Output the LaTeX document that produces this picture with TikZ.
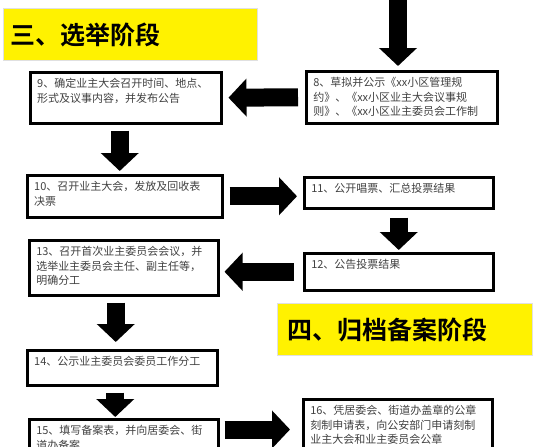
\documentclass[tikz,border=0pt]{standalone}
\usepackage{fontspec}
\newfontfamily\cjk{Noto Sans CJK SC}[BoldFont={Noto Sans CJK SC Bold}]
\usetikzlibrary{arrows.meta}
\usetikzlibrary{calc}
\tikzset{>=latex}
\tikzstyle{stepbox} = [%
					draw, line width = 2.5pt,
					anchor = north west, inner xsep = 7pt, inner ysep = 6pt,
					font = \cjk\fontsize{11}{14.5}\selectfont, text = black!75
					]
\tikzstyle{stage} = [%
					fill = yellow, draw = black!12, line width = 1pt,
					anchor = north west, align = left,
					font = \cjk\bfseries\fontsize{25}{30}\selectfont
					]
\tikzstyle{flow} = [line width = 18pt, -{Triangle[length=18pt,width=37pt]}]
% text of a step box: width, height, lines
\newcommand{\steptext}[3]{\parbox[c][\dimexpr#2pt-12pt\relax][t]{\dimexpr#1pt-14pt\relax}{\raggedright #3}}

\begin{document}
\begin{tikzpicture}[x=1pt,y=-1pt]
    \useasboundingbox (0,0) rectangle (539,447);
    \clip (0,0) rectangle (539,447);

    % stage titles
    \node[stage, inner xsep=7pt, text width=240pt, minimum height=52pt] (stage3) at (3,8) {三、选举阶段};
    \node[stage, inner xsep=10pt, text width=235pt, minimum height=52pt] (stage4) at (277,303) {四、归档备案阶段};

    % the steps
    \node[stepbox] (s8)  at (305,70)  {\steptext{191}{52}{8、草拟并公示《xx小区管理规\\约》、《xx小区业主大会议事规\\则》、《xx小区业主委员会工作制}};
    \node[stepbox] (s9)  at (29,71)   {\steptext{191}{51}{9、确定业主大会召开时间、地点、\\形式及议事内容，并发布公告}};
    \node[stepbox] (s10) at (26,174)  {\steptext{195}{42}{10、召开业主大会，发放及回收表\\决票}};
    \node[stepbox] (s11) at (303,176) {\steptext{189}{31}{11、公开唱票、汇总投票结果}};
    \node[stepbox] (s12) at (303,252) {\steptext{189}{37}{12、公告投票结果}};
    \node[stepbox] (s13) at (28,239)  {\steptext{189}{55}{13、召开首次业主委员会会议，并\\选举业主委员会主任、副主任等，\\明确分工}};
    \node[stepbox] (s14) at (26,349)  {\steptext{190}{35}{14、公示业主委员会委员工作分工}};
    \node[stepbox] (s15) at (28,418)  {\steptext{189}{52}{15、填写备案表，并向居委会、街\\道办备案}};
    \node[stepbox] (s16) at (302,398) {\steptext{189}{62}{16、凭居委会、街道办盖章的公章\\刻制申请表，向公安部门申请刻制\\业主大会和业主委员会公章}};

    % block arrows between the steps
    \coordinate (from7) at (398,-5);
    \draw[flow, shorten >=4pt] (from7) -- (from7 |- s8.north);
    \draw[flow, shorten <=7pt, shorten >=6pt] (s8.west) -- (s9.east);
    \draw[flow, shorten <=6pt, shorten >=3pt] ([xshift=-6pt]s9.south) -- ([xshift=-6pt]s9.south |- s10.north);
    \draw[flow, shorten <=6pt, shorten >=6pt] (s10.east) -- (s10.east -| s11.west);
    \draw[flow, shorten <=8pt, shorten >=2pt] (s11.south) -- (s12.north);
    \draw[flow, shorten <=9pt, shorten >=5pt] (s12.west) -- (s12.west -| s13.east);
    \draw[flow, shorten <=6pt, shorten >=7pt] ([xshift=-8pt]s13.south) -- ([xshift=-8pt]s13.south |- s14.north);
    \draw[flow, shorten <=6pt, shorten >=1pt] ([xshift=-7pt]s14.south) -- ([xshift=-7pt]s14.south |- s15.north);
    \coordinate (out15) at ([yshift=-11.5pt]s15.north east);
    \draw[flow, shorten <=5pt, shorten >=12pt] (out15) -- (out15 -| s16.west);

\end{tikzpicture}
\end{document}
